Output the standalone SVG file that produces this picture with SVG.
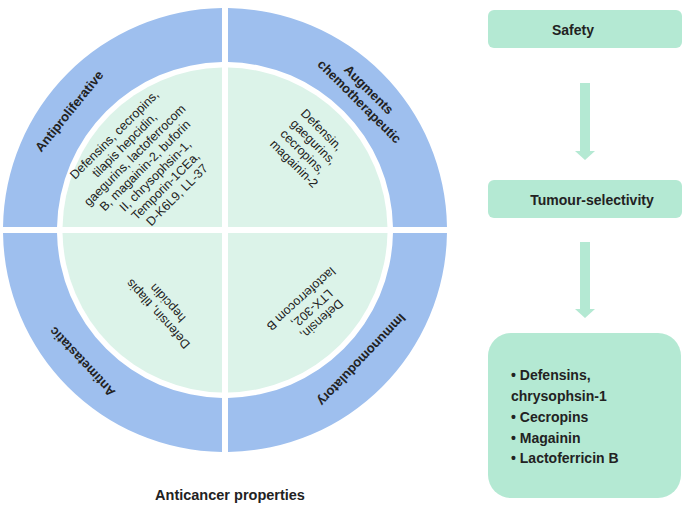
<svg xmlns="http://www.w3.org/2000/svg" width="685" height="509" viewBox="0 0 685 509">
<style>
.ring{fill:#9ebfee}
.inner{fill:#dcf3e9}
.box{fill:#b4e9d3}
.lbl{font-family:"Liberation Sans",Arial,sans-serif;font-weight:bold;font-size:13px;fill:#222;text-anchor:middle}
.txt{font-family:"Liberation Sans",Arial,sans-serif;font-size:12.5px;fill:#222;text-anchor:middle}
.btxt{font-family:"Liberation Sans",Arial,sans-serif;font-weight:bold;font-size:14px;fill:#222}
</style>
<rect width="685" height="509" fill="#ffffff"/>
<g id="antiproliferative">
<path class="ring" d="M3.02 227 A222 222 0 0 1 222 8.02 L222 62.03 A168 168 0 0 0 57.03 227 Z"/>
<path class="inner" d="M222 227 L62.53 227 A162.5 162.5 0 0 1 222 67.53 Z"/>
<text class="lbl" transform="translate(69,111) rotate(-51)" y="4.7">Antiproliferative</text>
<text class="txt" transform="translate(146,164) rotate(-45)">
<tspan x="0" y="-39">Defensins, cecropins,</tspan>
<tspan x="0" y="-24.5">tilapis hepcidin,</tspan>
<tspan x="0" y="-10">gaegurins, lactoferrocom</tspan>
<tspan x="0" y="4.5">B, magainin-2, buforin</tspan>
<tspan x="0" y="19">II, chrysophsin-1,</tspan>
<tspan x="0" y="33.5">Temporin-1CEa,</tspan>
<tspan x="0" y="48">D-K6L9, LL-37</tspan>
</text>
</g>
<g id="augments">
<path class="ring" d="M228 8.02 A222 222 0 0 1 446.98 227 L392.97 227 A168 168 0 0 0 228 62.03 Z"/>
<path class="inner" d="M228 227 L228 67.53 A162.5 162.5 0 0 1 387.47 227 Z"/>
<text class="lbl" transform="translate(365,96) rotate(45)">
<tspan x="0" y="-2.8">Augments</tspan>
<tspan x="0" y="12.2">chemotherapeutic</tspan>
</text>
<text class="txt" style="text-anchor:start" transform="translate(300,114) rotate(45)">
<tspan x="0" y="0">Defensin,</tspan>
<tspan x="0" y="14.5">gaegurins,</tspan>
<tspan x="0" y="29">cecropins,</tspan>
<tspan x="0" y="43.5">magainin-2</tspan>
</text>
</g>
<g id="immunomodulatory">
<path class="ring" d="M446.98 233 A222 222 0 0 1 228 451.98 L228 397.97 A168 168 0 0 0 392.97 233 Z"/>
<path class="inner" d="M228 233 L387.47 233 A162.5 162.5 0 0 1 228 392.47 Z"/>
<text class="lbl" transform="translate(362,360) rotate(133.5)" y="4.7">Immunomodulatory</text>
<text class="txt" transform="translate(311,310) rotate(138)">
<tspan x="0" y="-10">Defensin,</tspan>
<tspan x="0" y="4.5">LTX-302,</tspan>
<tspan x="0" y="19">lactoferrocom B</tspan>
</text>
</g>
<g id="antimetastatic">
<path class="ring" d="M222 451.98 A222 222 0 0 1 3.02 233 L57.03 233 A168 168 0 0 0 222 397.97 Z"/>
<path class="inner" d="M222 233 L222 392.47 A162.5 162.5 0 0 1 62.53 233 Z"/>
<text class="lbl" transform="translate(82,362) rotate(227)" y="4.7">Antimetastatic</text>
<text class="txt" transform="translate(162,308) rotate(228)">
<tspan x="0" y="-2.75">Defensin, tilapis</tspan>
<tspan x="0" y="11.75">hepcidin</tspan>
</text>
</g>
<g id="title">
<text class="btxt" x="230" y="500" text-anchor="middle" style="font-size:14.5px">Anticancer properties</text>
</g>
<g id="safety">
<rect class="box" x="488" y="10" width="194" height="38" rx="6"/>
<text class="btxt" x="573" y="35" text-anchor="middle">Safety</text>
</g>
<g id="tumour-selectivity">
<rect class="box" x="488" y="180" width="194" height="38" rx="6"/>
<text class="btxt" x="592" y="205" text-anchor="middle">Tumour-selectivity</text>
</g>
<g id="peptides">
<rect class="box" x="488" y="333" width="193" height="165" rx="23"/>
<text class="btxt">
<tspan x="511" y="380">• Defensins,</tspan>
<tspan x="511" y="401">chrysophsin-1</tspan>
<tspan x="511" y="422">• Cecropins</tspan>
<tspan x="511" y="443">• Magainin</tspan>
<tspan x="511" y="463">• Lactoferricin B</tspan>
</text>
</g>
<g id="connectors">
<path class="box" d="M580 83 H590 V151 H595 L585 160 L575 151 H580 Z"/>
<path class="box" d="M580 242 H590 V309 H595 L585 318 L575 309 H580 Z"/>
</g>
</svg>
